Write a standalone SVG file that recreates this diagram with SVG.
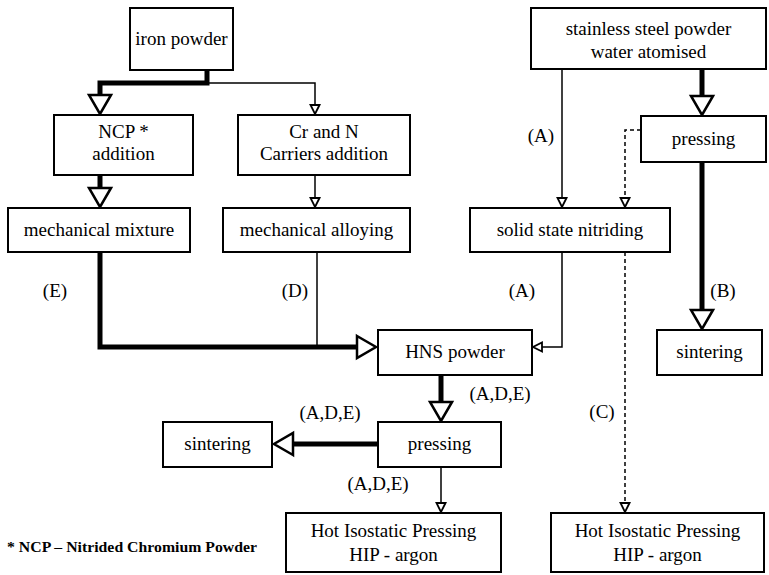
<svg xmlns="http://www.w3.org/2000/svg" width="769" height="575" viewBox="0 0 769 575">
<style>
.box{fill:#fff;stroke:#000;stroke-width:2}
.t{font-family:"Liberation Serif","Times New Roman",serif;font-size:19px;fill:#000;text-anchor:middle}
.lbl{font-family:"Liberation Serif","Times New Roman",serif;font-size:19px;fill:#000;text-anchor:middle}
.thick{fill:none;stroke:#000;stroke-width:5}
.thin{fill:none;stroke:#000;stroke-width:1.5}
.dash{fill:none;stroke:#000;stroke-width:1.5;stroke-dasharray:4 3}
</style>
<defs>
<marker id="big" markerUnits="userSpaceOnUse" markerWidth="24" markerHeight="26" refX="1" refY="12" orient="auto" overflow="visible">
<path d="M1,1 L20,12 L1,23 Z" fill="#fff" stroke="#000" stroke-width="2.5"/>
</marker>
<marker id="small" markerUnits="userSpaceOnUse" markerWidth="12" markerHeight="12" refX="1" refY="5" orient="auto" overflow="visible">
<path d="M1,0.5 L10,5 L1,9.5 Z" fill="#fff" stroke="#000" stroke-width="1.8"/>
</marker>
</defs>
<rect width="769" height="575" fill="#fff"/>
<g id="connectors">
<path class="thick" d="M207,70 V83 H100 V95" marker-end="url(#big)"/>
<path class="thin" d="M207,83 H315 V105" marker-end="url(#small)"/>
<path class="thick" d="M100,175 V188" marker-end="url(#big)"/>
<path class="thin" d="M315,175 V198" marker-end="url(#small)"/>
<path class="thick" d="M100,252 V347 H357" marker-end="url(#big)"/>
<path class="thin" d="M317,252 V347"/>
<path class="thin" d="M562,69 V198" marker-end="url(#small)"/>
<path class="thick" d="M702,69 V96" marker-end="url(#big)"/>
<path class="dash" d="M641,130 H625 V198" marker-end="url(#small)"/>
<path class="thick" d="M702,162 V310" marker-end="url(#big)"/>
<path class="thin" d="M562,252 V347 H542" marker-end="url(#small)"/>
<path class="dash" d="M625,252 V503" marker-end="url(#small)"/>
<path class="thick" d="M441,375 V402" marker-end="url(#big)"/>
<path class="thick" d="M378,444 H293" marker-end="url(#big)"/>
<path class="thin" d="M441,467 V503" marker-end="url(#small)"/>
</g>
<g id="labels">
<text class="lbl" x="541" y="142">(A)</text>
<text class="lbl" x="55" y="297">(E)</text>
<text class="lbl" x="295" y="297">(D)</text>
<text class="lbl" x="522" y="297">(A)</text>
<text class="lbl" x="723" y="297">(B)</text>
<text class="lbl" x="500" y="400">(A,D,E)</text>
<text class="lbl" x="330" y="419">(A,D,E)</text>
<text class="lbl" x="378" y="490">(A,D,E)</text>
<text class="lbl" x="602" y="418">(C)</text>
</g>
<g id="iron-powder"><rect class="box" x="130" y="8" width="103" height="62"/><text class="t" x="181.5" y="45">iron powder</text></g>
<g id="stainless"><rect class="box" x="531" y="8" width="235" height="61"/><text class="t" x="648.5" y="35">stainless steel powder</text><text class="t" x="648.5" y="58">water atomised</text></g>
<g id="ncp-addition"><rect class="box" x="54" y="115" width="139" height="60"/><text class="t" x="123.5" y="138">NCP *</text><text class="t" x="123.5" y="160">addition</text></g>
<g id="cr-n-addition"><rect class="box" x="238" y="115" width="172" height="60"/><text class="t" x="324" y="138">Cr and N</text><text class="t" x="324" y="160">Carriers addition</text></g>
<g id="mech-mixture"><rect class="box" x="8" y="208" width="182" height="44"/><text class="t" x="99" y="236">mechanical mixture</text></g>
<g id="mech-alloying"><rect class="box" x="223" y="208" width="187" height="44"/><text class="t" x="316.5" y="236">mechanical alloying</text></g>
<g id="pressing-right"><rect class="box" x="641" y="116" width="125" height="46"/><text class="t" x="703.5" y="145">pressing</text></g>
<g id="solid-state-nitriding"><rect class="box" x="470" y="208" width="200" height="44"/><text class="t" x="570" y="236">solid state nitriding</text></g>
<g id="hns-powder"><rect class="box" x="378" y="330" width="154" height="45"/><text class="t" x="455" y="358">HNS powder</text></g>
<g id="sintering-right"><rect class="box" x="657" y="330" width="105" height="45"/><text class="t" x="709.5" y="358">sintering</text></g>
<g id="pressing-mid"><rect class="box" x="378" y="422" width="123" height="45"/><text class="t" x="439.5" y="450">pressing</text></g>
<g id="sintering-left"><rect class="box" x="163" y="422" width="109" height="45"/><text class="t" x="217.5" y="450">sintering</text></g>
<g id="hip-left"><rect class="box" x="286" y="513" width="215" height="59"/><text class="t" x="393.5" y="537">Hot Isostatic Pressing</text><text class="t" x="393.5" y="561">HIP - argon</text></g>
<g id="hip-right"><rect class="box" x="551" y="513" width="213" height="59"/><text class="t" x="657.5" y="537">Hot Isostatic Pressing</text><text class="t" x="657.5" y="561">HIP - argon</text></g>
<g id="footnote"><text x="7" y="552" font-family="'Liberation Serif','Times New Roman',serif" font-size="15" font-weight="bold" textLength="250" lengthAdjust="spacingAndGlyphs">* NCP – Nitrided Chromium Powder</text></g>
</svg>
